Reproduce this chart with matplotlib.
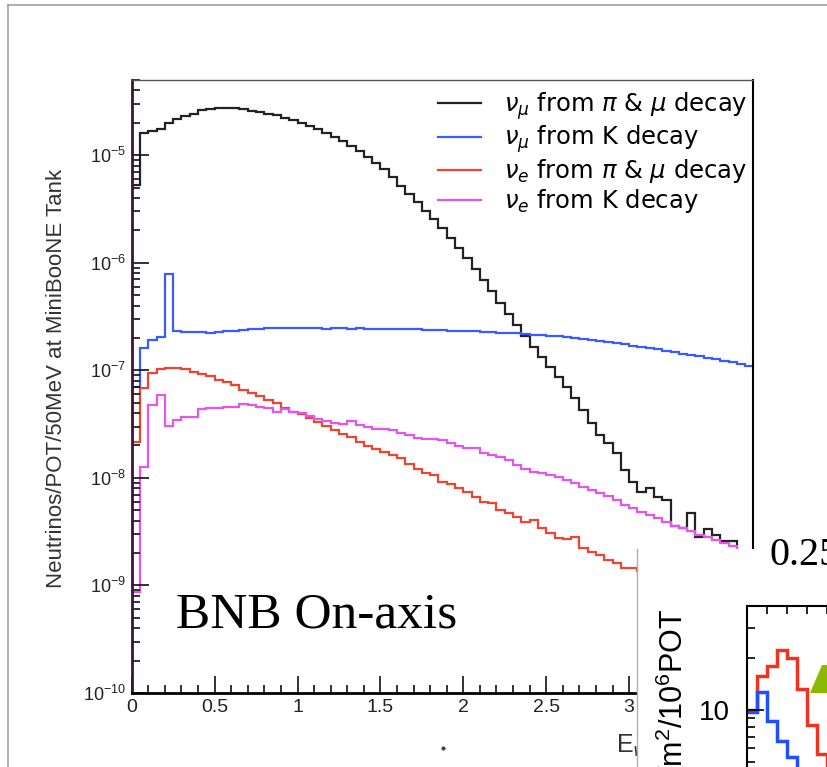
import numpy as np
import matplotlib
matplotlib.use('Agg')
import matplotlib.pyplot as plt
from matplotlib.ticker import LogLocator, MultipleLocator, FuncFormatter, NullFormatter
from matplotlib.patches import Rectangle, Polygon
from matplotlib.lines import Line2D

plt.rcParams['font.family'] = ['Liberation Sans', 'DejaVu Sans']

W, H = 828, 767


def fx(x):
    return x / W


def fy(y):
    return 1 - y / H


# 50 MeV bins, 0 - 3.75 GeV
edges = np.linspace(0, 3.75, 76)

numu_pimu = [5.3e-6, 1.61e-5, 1.67e-5, 1.77e-5, 2.01e-5, 2.16e-5, 2.32e-5, 2.44e-5, 2.62e-5, 2.68e-5,
             2.74e-5, 2.74e-5, 2.72e-5, 2.66e-5, 2.60e-5, 2.52e-5, 2.44e-5, 2.34e-5, 2.24e-5, 2.11e-5,
             1.99e-5, 1.87e-5, 1.74e-5, 1.61e-5, 1.48e-5, 1.35e-5, 1.22e-5, 1.10e-5, 9.6e-6, 8.5e-6,
             7.4e-6, 6.3e-6, 5.15e-6, 4.35e-6, 3.66e-6, 3.05e-6, 2.54e-6, 2.10e-6, 1.71e-6, 1.38e-6,
             1.10e-6, 8.8e-7, 6.97e-7, 5.45e-7, 4.26e-7, 3.33e-7, 2.63e-7, 2.08e-7, 1.65e-7, 1.33e-7,
             1.08e-7, 8.65e-8, 6.98e-8, 5.52e-8, 4.27e-8, 3.21e-8, 2.50e-8, 2.09e-8, 1.69e-8, 1.18e-8,
             9.2e-9, 7.43e-9, 7.98e-9, 6.67e-9, 6.22e-9, 3.56e-9, 3.40e-9, 4.68e-9, 2.84e-9, 3.32e-9,
             2.94e-9, 2.60e-9, 2.60e-9, 1.9e-9, 1.6e-9]

numu_k = [7.0e-8, 1.60e-7, 1.91e-7, 2.05e-7, 7.9e-7, 2.30e-7, 2.29e-7, 2.27e-7, 2.26e-7, 2.20e-7,
          2.26e-7, 2.30e-7, 2.31e-7, 2.36e-7, 2.40e-7, 2.44e-7, 2.45e-7, 2.46e-7, 2.45e-7, 2.46e-7,
          2.45e-7, 2.46e-7, 2.47e-7, 2.42e-7, 2.46e-7, 2.45e-7, 2.42e-7, 2.45e-7, 2.43e-7, 2.44e-7,
          2.42e-7, 2.44e-7, 2.41e-7, 2.40e-7, 2.40e-7, 2.38e-7, 2.37e-7, 2.36e-7, 2.34e-7, 2.34e-7,
          2.31e-7, 2.30e-7, 2.28e-7, 2.27e-7, 2.24e-7, 2.22e-7, 2.20e-7, 2.18e-7, 2.15e-7, 2.13e-7,
          2.10e-7, 2.07e-7, 2.04e-7, 2.00e-7, 1.96e-7, 1.91e-7, 1.87e-7, 1.83e-7, 1.79e-7, 1.74e-7,
          1.70e-7, 1.65e-7, 1.61e-7, 1.57e-7, 1.52e-7, 1.47e-7, 1.43e-7, 1.39e-7, 1.35e-7, 1.31e-7,
          1.27e-7, 1.23e-7, 1.19e-7, 1.15e-7, 1.09e-7]

nue_pimu = [2.17e-8, 6.8e-8, 9.35e-8, 1.02e-7, 1.04e-7, 1.04e-7, 1.02e-7, 9.7e-8, 9.2e-8, 8.8e-8,
            8.2e-8, 7.8e-8, 7.3e-8, 6.5e-8, 6.1e-8, 5.75e-8, 5.28e-8, 4.92e-8, 4.48e-8, 4.11e-8,
            3.92e-8, 3.57e-8, 3.32e-8, 3.05e-8, 2.78e-8, 2.55e-8, 2.38e-8, 2.17e-8, 1.98e-8, 1.84e-8,
            1.75e-8, 1.63e-8, 1.52e-8, 1.35e-8, 1.20e-8, 1.10e-8, 1.06e-8, 9.2e-9, 8.75e-9, 8.0e-9,
            7.43e-9, 6.67e-9, 6.0e-9, 5.79e-9, 5.02e-9, 4.68e-9, 4.35e-9, 3.91e-9, 4.05e-9, 3.40e-9,
            3.05e-9, 2.74e-9, 2.68e-9, 2.84e-9, 2.21e-9, 2.06e-9, 1.92e-9, 1.72e-9, 1.60e-9, 1.44e-9,
            1.44e-9, 1.35e-9, 1.25e-9, 1.15e-9, 1.08e-9, 1.0e-9, 9.3e-10, 8.6e-10, 8.0e-10, 7.4e-10,
            6.9e-10, 6.4e-10, 5.9e-10, 5.5e-10, 5.1e-10]

nue_k = [8.75e-10, 1.25e-8, 4.75e-8, 5.89e-8, 3.03e-8, 3.44e-8, 3.70e-8, 3.65e-8, 4.34e-8, 4.44e-8,
         4.48e-8, 4.58e-8, 4.58e-8, 4.82e-8, 4.75e-8, 4.58e-8, 4.44e-8, 4.11e-8, 4.34e-8, 4.11e-8,
         3.97e-8, 3.74e-8, 3.56e-8, 3.37e-8, 3.22e-8, 3.18e-8, 3.37e-8, 3.13e-8, 3.0e-8, 2.85e-8,
         2.85e-8, 2.78e-8, 2.62e-8, 2.51e-8, 2.33e-8, 2.28e-8, 2.28e-8, 2.26e-8, 2.09e-8, 1.98e-8,
         1.88e-8, 1.88e-8, 1.70e-8, 1.63e-8, 1.57e-8, 1.46e-8, 1.31e-8, 1.22e-8, 1.14e-8, 1.10e-8,
         1.06e-8, 1.02e-8, 9.5e-9, 8.9e-9, 8.3e-9, 7.7e-9, 7.2e-9, 6.8e-9, 6.2e-9, 5.6e-9,
         5.2e-9, 4.85e-9, 4.5e-9, 4.2e-9, 3.9e-9, 3.56e-9, 3.4e-9, 3.2e-9, 2.94e-9, 2.84e-9,
         2.64e-9, 2.46e-9, 2.32e-9, 2.1e-9, 1.95e-9]

labels = [r'$\nu_\mu$ from $\pi$ & $\mu$ decay',
          r'$\nu_\mu$ from K decay',
          r'$\nu_e$ from $\pi$ & $\mu$ decay',
          r'$\nu_e$ from K decay']
colors = ['#222222', '#3a5cff', '#ee4433', '#e455f0']

# second (overlapping) panel: off-axis flux, partly visible
off_edges = np.arange(0, 13) * 0.05
off_nue = [10.0, 15.8, 18.0, 22.4, 20.0, 13.3, 8.2, 5.6, 4.0, 3.0, 2.3, 1.8]
off_numu = [9.8, 12.7, 8.63, 6.65, 5.37, 4.2, 3.3, 2.6, 2.1, 1.7, 1.4, 1.2]

fig = plt.figure(figsize=(W / 100, H / 100), dpi=100)

# slide border
fig.add_artist(Line2D([fx(8), fx(8)], [0, fy(5)], color='#a0a0a0', lw=1.2))
fig.add_artist(Line2D([fx(8), 1], [fy(5), fy(5)], color='#a0a0a0', lw=1.2))

ax = fig.add_axes([fx(131.7), fy(693), (753.5 - 131.7) / W, (693 - 80) / H])
ax.set_yscale('log')
for vals, c in zip([numu_pimu, numu_k, nue_pimu, nue_k], colors):
    ax.stairs(vals, edges, baseline=None, color=c, lw=1.6)
ax.set_xlim(0, 3.75)
ax.set_ylim(1e-10, 5e-5)

ax.xaxis.set_major_locator(MultipleLocator(0.5))
ax.xaxis.set_minor_locator(MultipleLocator(0.1))
ax.xaxis.set_major_formatter(FuncFormatter(lambda v, p: '%g' % v))
ax.yaxis.set_major_locator(LogLocator(base=10, numticks=20))
ax.yaxis.set_minor_locator(LogLocator(base=10, subs=np.arange(2, 10), numticks=20))
ax.yaxis.set_minor_formatter(NullFormatter())
ax.tick_params(which='both', direction='in', top=False, right=False, width=1.2, color='#111111')
ax.tick_params(which='major', length=12)
ax.tick_params(which='minor', length=6)
ax.tick_params(axis='x', labelsize=14, pad=4, labelcolor='#222222')
ax.tick_params(axis='y', labelsize=13, pad=4, labelcolor='#222222')
ax.spines['left'].set_linewidth(2)
ax.spines['left'].set_color('#3a1535')
ax.spines['bottom'].set_linewidth(2)
ax.spines['top'].set_linewidth(1)
ax.spines['top'].set_color('#555555')
ax.spines['right'].set_linewidth(1.5)

handles = [Line2D([], [], color=c, lw=1.6) for c in colors]
ax.legend(handles, labels, loc='upper left', bbox_to_anchor=(fx(438), fy(90)),
          bbox_transform=fig.transFigure, frameon=False,
          prop={'family': 'DejaVu Sans', 'size': 17.5},
          handlelength=1.75, handletextpad=0.95, borderpad=0, borderaxespad=0,
          labelspacing=0.08)

fig.text(fx(57), fy(378), 'Neutrinos/POT/50MeV at MiniBooNE Tank', rotation=90,
         ha='center', va='center', fontsize=16, color='#333333')
fig.text(fx(176), fy(627), 'BNB On-axis', family='Liberation Serif', fontsize=37,
         ha='left', va='baseline')
fig.text(fx(616), fy(752), r'E$_\nu$ (GeV)', fontsize=18, ha='left', va='baseline',
         color='#333333', zorder=0.5)
fig.add_artist(Line2D([fx(443)], [fy(748)], marker='o', ms=2, color='#444444', lw=0))

# pasted panel in the lower right corner
fig.add_artist(Rectangle((fx(637), 0), 1 - fx(637), fy(549), transform=fig.transFigure,
                         facecolor='white', edgecolor='none', zorder=1))
fig.add_artist(Line2D([fx(637), fx(637)], [0, fy(549)], color='#b0b0b0', lw=1, zorder=1.5))

ax2 = fig.add_axes([fx(747), fy(883), 400 / W, (883 - 606) / H], zorder=2)
ax2.set_yscale('log')
ax2.stairs(off_nue, off_edges, baseline=None, color='#ee3322', lw=2.5)
ax2.stairs(off_numu, off_edges, baseline=None, color='#1f4fff', lw=2.5)
ax2.set_xlim(0, 2.0)
ax2.set_ylim(1, 40)
ax2.xaxis.set_major_locator(MultipleLocator(0.1))
ax2.tick_params(axis='x', which='both', direction='in', top=True, bottom=False,
                labeltop=False, labelbottom=False, length=6, width=1.2)
ax2.yaxis.set_major_formatter(FuncFormatter(lambda v, p: '%g' % v))
ax2.yaxis.set_minor_formatter(NullFormatter())
ax2.tick_params(axis='y', which='both', direction='in', left=True, right=False, width=1.2)
ax2.tick_params(axis='y', which='major', length=12, labelsize=20, pad=12)
ax2.tick_params(axis='y', which='minor', length=6)
for s in ['left', 'top']:
    ax2.spines[s].set_linewidth(1.5)

fig.text(fx(674), fy(608), 'ν' + r'$\mathdefault{/m^{2}/10^{6}}$POT', rotation=90,
         ha='center', va='top', fontsize=22, zorder=3)
fig.text(fx(770), fy(565), '0.25', family='Liberation Serif', fontsize=29,
         ha='left', va='baseline', zorder=3)
fig.add_artist(Polygon([(fx(810), fy(693)), (fx(822), fy(665)), (fx(828), fy(665)),
                        (fx(828), fy(693))], closed=True, transform=fig.transFigure,
                       facecolor='#8cb800', edgecolor='none', zorder=3))

fig.savefig('out.png', dpi=100)
